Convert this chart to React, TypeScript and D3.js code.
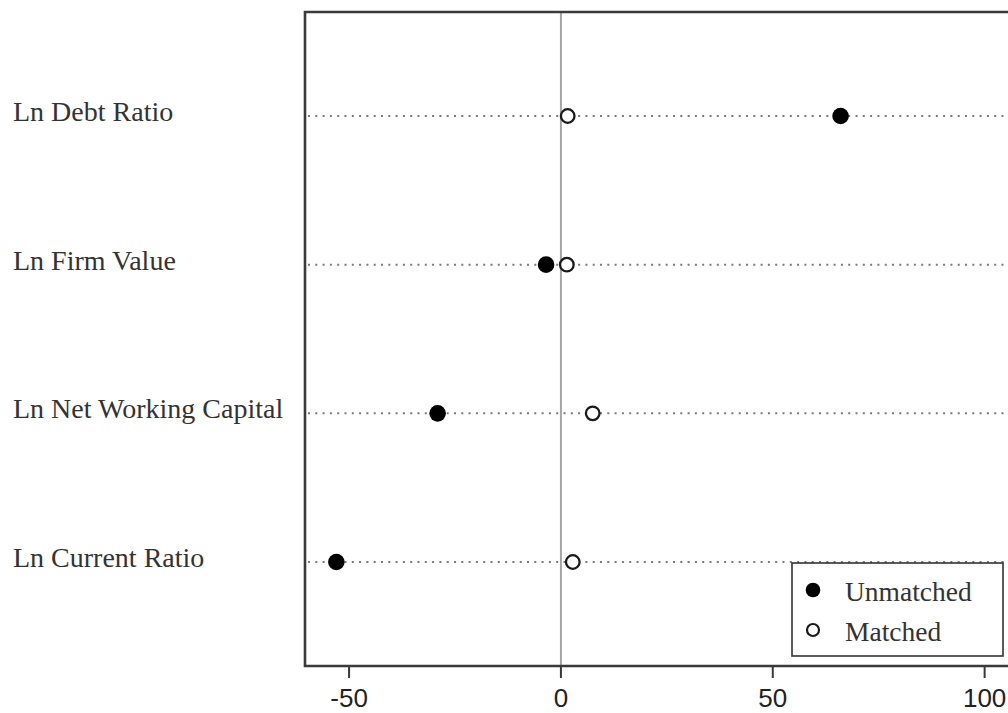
import React from "react";
import * as d3 from "d3";

// Standardized bias (%) for each covariate, before and after matching
const variables = [
  "Ln Debt Ratio",
  "Ln Firm Value",
  "Ln Net Working Capital",
  "Ln Current Ratio",
];
const unmatched = [66.0, -3.5, -29.1, -53.0];
const matched = [1.6, 1.4, 7.5, 2.8];
const xTicks = [-50, 0, 50, 100];
const legendItems = ["Unmatched", "Matched"];

const W = 1008;
const H = 713;
const plot = { left: 305, top: 12, right: 1027, bottom: 666 };

const serif = "'Liberation Serif', 'Times New Roman', serif";
const sans = "'Liberation Sans', Arial, sans-serif";

export default function App() {
  const x = d3.scaleLinear().domain([-60.4, 110]).range([plot.left, plot.right]);
  const y = d3.scalePoint<string>().domain(variables).range([116, 562]).padding(0);

  const legend = { x: 792, y: 563, w: 211, h: 93 };

  return (
    <svg
      width={W}
      height={H}
      style={{ position: "absolute", left: 0, top: 0, background: "#fff" }}
      fontFamily={serif}
    >
      {/* dotted guide per covariate */}
      {variables.map((v) => (
        <line
          key={"g" + v}
          x1={plot.left + 3}
          x2={W}
          y1={y(v)}
          y2={y(v)}
          stroke="#7a7a7a"
          strokeWidth={2}
          strokeDasharray="2 5.3"
        />
      ))}

      {/* reference line at zero */}
      <line
        x1={x(0)}
        x2={x(0)}
        y1={plot.top}
        y2={plot.bottom}
        stroke="#a5a5a5"
        strokeWidth={2}
      />

      {/* frame */}
      <path
        d={`M${plot.right},${plot.top}H${plot.left}V${plot.bottom}H${plot.right}`}
        fill="none"
        stroke="#3a3a3a"
        strokeWidth={2.6}
      />

      {/* category labels */}
      {variables.map((v) => (
        <text key={"l" + v} x={13} y={(y(v) ?? 0) + 5} fontSize={28} fill="#333">
          {v}
        </text>
      ))}

      {/* markers */}
      {variables.map((v, i) => (
        <g key={"m" + v}>
          <circle cx={x(unmatched[i])} cy={y(v)} r={8.3} fill="#000" />
          <circle
            cx={x(matched[i])}
            cy={y(v)}
            r={6.8}
            fill="#fff"
            stroke="#1a1a1a"
            strokeWidth={2.3}
          />
        </g>
      ))}

      {/* x axis ticks */}
      {xTicks.map((t) => (
        <g key={"t" + t} transform={`translate(${x(t)},0)`}>
          <line y1={plot.bottom} y2={plot.bottom + 12} stroke="#3a3a3a" strokeWidth={2} />
          <text
            y={707}
            textAnchor="middle"
            fontFamily={sans}
            fontSize={26}
            fill="#222"
          >
            {t}
          </text>
        </g>
      ))}

      {/* legend */}
      <rect
        x={legend.x}
        y={legend.y}
        width={legend.w}
        height={legend.h}
        fill="#fff"
        stroke="#333"
        strokeWidth={1.6}
      />
      {legendItems.map((name, i) => (
        <g key={"lg" + name} transform={`translate(${legend.x},${legend.y + 27 + i * 40})`}>
          {i === 0 ? (
            <circle cx={21} cy={0} r={7.3} fill="#000" />
          ) : (
            <circle cx={21} cy={0} r={6} fill="#fff" stroke="#1a1a1a" strokeWidth={2.2} />
          )}
          <text x={53} y={11} fontSize={27.5} fill="#333">
            {name}
          </text>
        </g>
      ))}
    </svg>
  );
}
